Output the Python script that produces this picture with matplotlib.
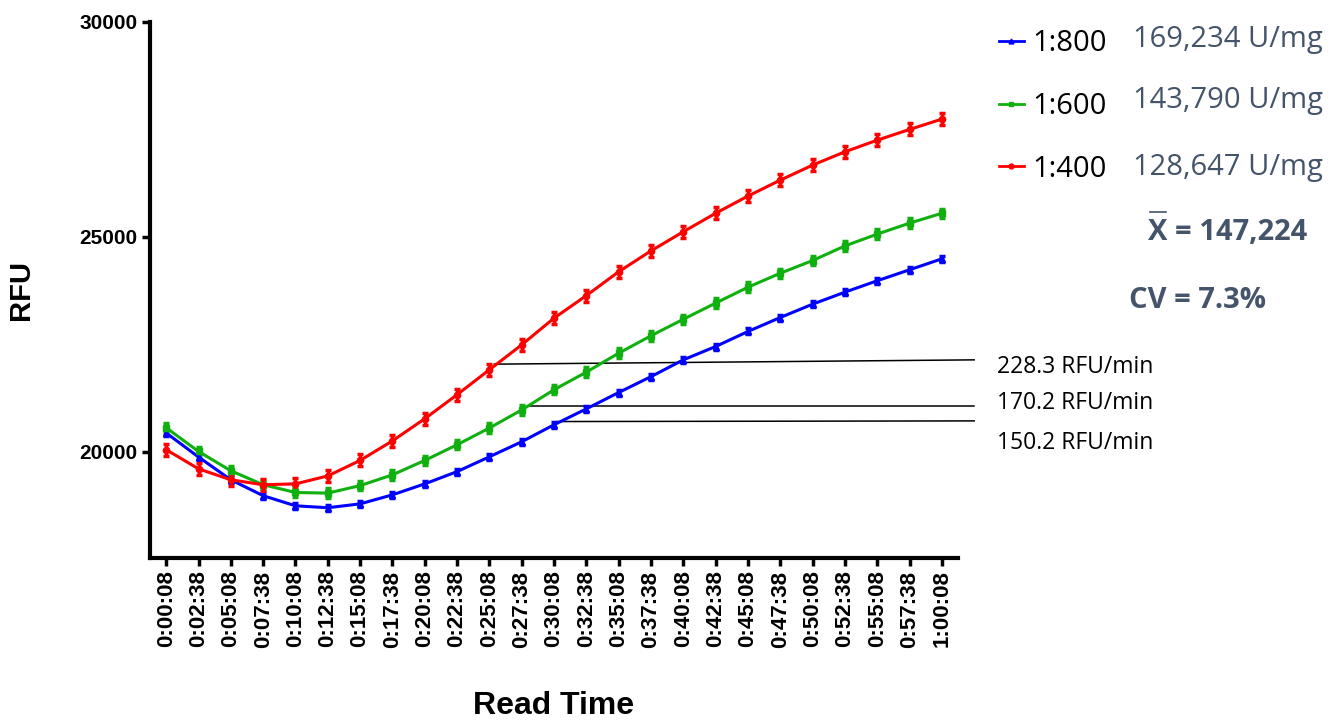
import matplotlib.pyplot as plt
from matplotlib.lines import Line2D

read_times = ['0:00:08', '0:02:38', '0:05:08', '0:07:38', '0:10:08', '0:12:38', '0:15:08',
              '0:17:38', '0:20:08', '0:22:38', '0:25:08', '0:27:38', '0:30:08', '0:32:38',
              '0:35:08', '0:37:38', '0:40:08', '0:42:38', '0:45:08', '0:47:38', '0:50:08',
              '0:52:38', '0:55:08', '0:57:38', '1:00:08']

rfu_800 = [20440, 19880, 19350, 18980, 18745, 18700, 18790, 19000, 19255, 19540, 19885, 20235,
           20630, 21000, 21380, 21750, 22140, 22450, 22800, 23125, 23435, 23715, 23980, 24235, 24490]
rfu_600 = [20560, 20010, 19560, 19235, 19055, 19040, 19215, 19465, 19800, 20165, 20555, 20975,
           21445, 21855, 22295, 22700, 23085, 23460, 23830, 24155, 24450, 24790, 25065, 25320, 25550]
rfu_400 = [20050, 19605, 19350, 19235, 19255, 19440, 19800, 20255, 20770, 21330, 21910, 22490,
           23110, 23635, 24190, 24675, 25120, 25550, 25950, 26320, 26670, 26980, 27250, 27500, 27740]
err_800 = 70
err_600 = 110
err_400 = 140

dilutions = ['1:800', '1:600', '1:400']
activities = ['169,234 U/mg', '143,790 U/mg', '128,647 U/mg']
mean_text = 'X = 147,224'
cv_text = 'CV = 7.3%'

# slope annotation lines (start index, start/end RFU)
slope_labels = ['228.3 RFU/min', '170.2 RFU/min', '150.2 RFU/min']
slope_x0 = [10.15, 11.15, 12.1]
slope_y0 = [22040, 21075, 20705]
slope_y1 = [22140, 21075, 20720]
slope_text_y = [21975, 21140, 20200]

fig = plt.figure(figsize=(13.3, 7.25), dpi=100)
ax = fig.add_axes([0.1128, 0.2303, 0.6075, 0.7394])

x = list(range(len(read_times)))
series = [
    (rfu_800, err_800, '#0000FF', '^'),
    (rfu_600, err_600, '#10B010', 's'),
    (rfu_400, err_400, '#FF0000', 'o'),
]
handles = []
for (vals, err, color, marker), name in zip(series, dilutions):
    ax.errorbar(x, vals, yerr=err, color=color, marker=marker, markersize=4.5,
                linewidth=2.2, elinewidth=2.5, capsize=2.5, capthick=2.5)
    handles.append(Line2D([], [], color=color, marker=marker, markersize=3.5, linewidth=2))

for x0, y0, y1 in zip(slope_x0, slope_y0, slope_y1):
    ax.plot([x0, 25.0], [y0, y1], color='black', linewidth=1.1, clip_on=False, zorder=1)
for lab, ty in zip(slope_labels, slope_text_y):
    ax.text(25.7, ty, lab, fontsize=16.5, family='Open Sans', va='center', ha='left',
            clip_on=False)

ax.set_xlim(-0.5, 24.5)
ax.set_ylim(17530, 30000)
ax.set_yticks([20000, 25000, 30000])
ax.set_xticks(x)
ax.set_xticklabels(read_times, rotation=90)
for lbl in ax.get_xticklabels():
    lbl.set_fontweight('bold')
    lbl.set_family('Liberation Sans')
    lbl.set_fontsize(16)
for lbl in ax.get_yticklabels():
    lbl.set_fontweight('bold')
    lbl.set_family('Liberation Sans')
    lbl.set_fontsize(15)

ax.spines['top'].set_visible(False)
ax.spines['right'].set_visible(False)
ax.spines['left'].set_linewidth(3)
ax.spines['bottom'].set_linewidth(3)
ax.tick_params(axis='both', width=2.5, length=6, direction='out', pad=3)

ax.set_ylabel('RFU', fontsize=21, fontweight='bold', family='Liberation Sans', labelpad=32)
ax.set_xlabel('Read Time', fontsize=23, fontweight='bold', family='Liberation Sans',
              labelpad=31)

fig.legend(handles, dilutions, loc='upper left', bbox_to_anchor=(0.751, 0.960),
           frameon=False, handlelength=0.85, handletextpad=0.3, borderpad=0,
           borderaxespad=0, labelspacing=1.16, prop={'family': 'Open Sans', 'size': 21})

grey = '#44546A'
act_y = [0.945, 0.862, 0.769]
for t, yy in zip(activities, act_y):
    fig.text(0.852, yy, t, fontsize=21, family='Open Sans', color=grey, va='center')
fig.text(0.863, 0.679, mean_text, fontsize=21, family='Open Sans', fontweight='bold',
         color=grey, va='center')
fig.add_artist(Line2D([0.865, 0.877], [0.708, 0.708], color=grey, linewidth=1.2))
fig.text(0.849, 0.586, cv_text, fontsize=21, family='Open Sans', fontweight='bold',
         color=grey, va='center')

fig.savefig('out.png', dpi=100)
